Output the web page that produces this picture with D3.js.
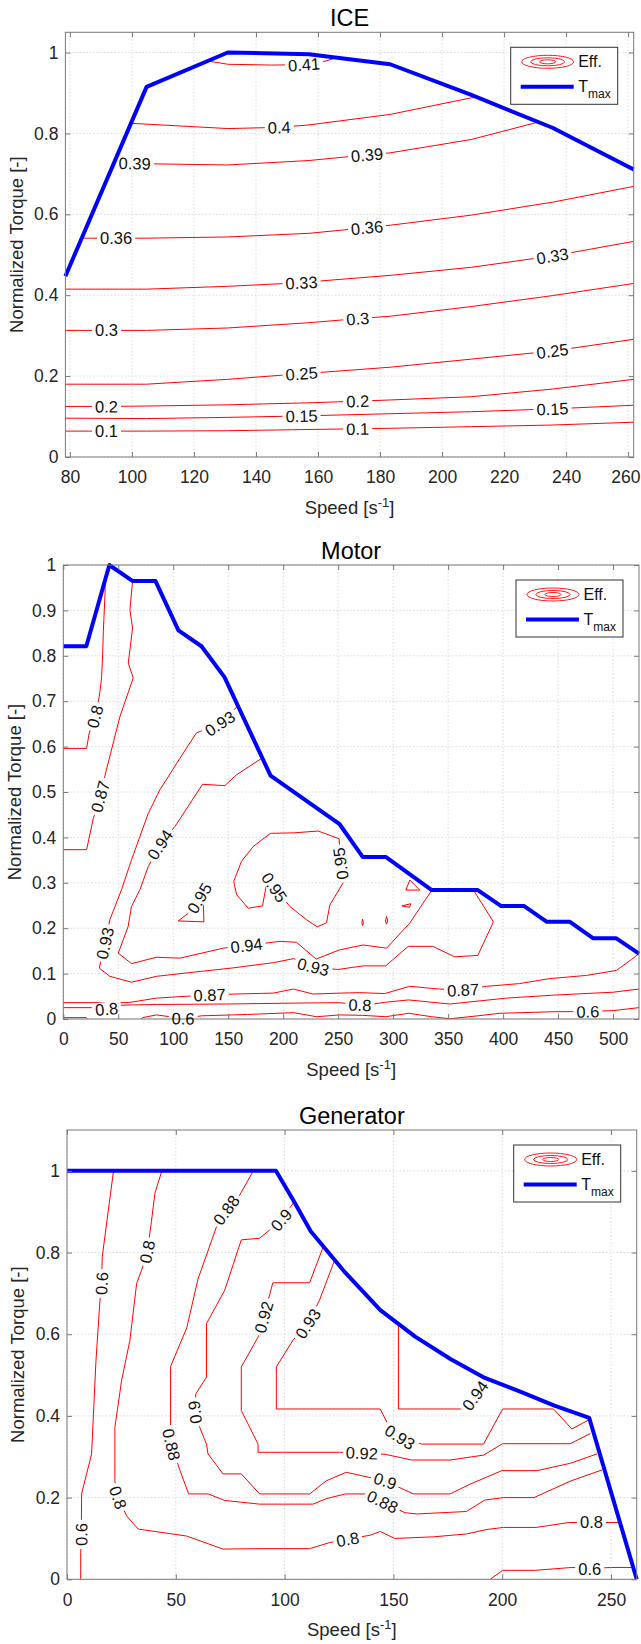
<!DOCTYPE html>
<html>
<head>
<meta charset="utf-8">
<script src="https://cdn.jsdelivr.net/npm/d3@7"></script>
<style>
body { margin: 0; background: #fff; }
text { font-family: "Liberation Sans", Arial, sans-serif; }
</style>
</head>
<body>
<div id="graphic"></div>
<script>
// ---- ICE data ----  (points are [speed, torque], a third value 1 marks a label spot)
const iceSpeed = [78.54, 104.72, 130.9, 157.08, 183.26, 209.44, 235.62, 261.8];
const iceTmax = [0.447, 0.915, 1.0, 0.996, 0.971, 0.895, 0.814, 0.711];
const iceLevels = ["0.41", "0.4", "0.39", "0.36", "0.33", "0.3", "0.25", "0.2", "0.15", "0.1"];
const iceLines = [
    [[124.5, 0.979], [130.9, 0.971], [145, 0.969], [155.5, 0.970, 1], [162.6, 0.979], [166, 0.988]],
    [[99.7, 0.825], [130.9, 0.812], [147.5, 0.815, 1], [157.08, 0.821], [183.26, 0.847], [209.44, 0.888], [211.3, 0.889]],
    [[94.1, 0.726], [100.9, 0.726, 1], [104.72, 0.725], [130.9, 0.722], [157.08, 0.733], [175.8, 0.747, 1], [183.26, 0.752], [209.44, 0.785], [231, 0.828]],
    [[83.8, 0.541], [94.9, 0.541, 1], [104.72, 0.541], [130.9, 0.544], [157.08, 0.553], [175.8, 0.567, 1], [183.26, 0.573], [209.44, 0.598], [235.62, 0.630], [261.8, 0.669]],
    [[78.54, 0.415], [104.72, 0.415], [130.9, 0.422], [154.7, 0.431, 1], [157.08, 0.433], [183.26, 0.449], [209.44, 0.469], [235.62, 0.497, 1], [261.8, 0.533]],
    [[78.54, 0.313], [91.8, 0.313, 1], [104.72, 0.313], [130.9, 0.319], [157.08, 0.332], [172.8, 0.342, 1], [183.26, 0.348], [209.44, 0.372], [235.62, 0.399], [261.8, 0.429]],
    [[78.54, 0.18], [104.72, 0.18], [130.9, 0.192], [154.7, 0.206, 1], [157.08, 0.207], [183.26, 0.222], [209.44, 0.242], [235.62, 0.262, 1], [261.8, 0.291]],
    [[78.54, 0.125], [91.8, 0.125, 1], [104.72, 0.126], [130.9, 0.129], [157.08, 0.134], [172.8, 0.138, 1], [183.26, 0.141], [209.44, 0.149], [235.62, 0.168], [261.8, 0.192]],
    [[78.54, 0.096], [104.72, 0.095], [130.9, 0.098], [154.7, 0.1015, 1], [157.08, 0.102], [183.26, 0.107], [209.44, 0.112], [235.62, 0.119, 1], [261.8, 0.128]],
    [[78.54, 0.064], [91.8, 0.064, 1], [104.72, 0.064], [130.9, 0.065], [157.08, 0.068], [172.8, 0.0698, 1], [183.26, 0.071], [209.44, 0.075], [235.62, 0.079], [261.8, 0.086]]
];
const iceXTicks = [80, 100, 120, 140, 160, 180, 200, 220, 240, 260];
const iceYTicks = [0, 0.2, 0.4, 0.6, 0.8, 1];

// ---- Motor data ----
const motorSpeed = [0, 20.94, 41.89, 62.83, 83.78, 104.72, 125.66, 146.61, 188.5, 251.33, 272.27, 293.22, 335.1, 376.99, 397.94, 418.88, 439.82, 460.77, 481.71, 502.65, 523.6];
const motorTmax = [0.821, 0.821, 1.0, 0.965, 0.965, 0.856, 0.821, 0.753, 0.536, 0.429, 0.357, 0.357, 0.284, 0.284, 0.249, 0.249, 0.214, 0.214, 0.178, 0.178, 0.144];
const motorLevels = ["0.6", "0.6", "0.8", "0.8", "0.87", "0.87", "0.93", "0.94", "0.95", "0.95", "0.95", "0.95", "0.95", "0.95"];
const motorLines = [
    [[0, 0.003], [20.94, 0.003], [26, -0.01]],
    [[66, -0.01], [72, 0.003], [84.8, 0.009], [109, 0.001, 1], [125.7, 0.007], [167.6, 0.010], [209.4, 0.014], [230.4, 0.005], [251.3, 0.009], [272.3, 0.008], [293.2, 0.005], [314.2, 0.0126], [335.1, 0.005], [351.5, 0.0005], [377, 0.007], [397, 0.0126], [445.5, 0.016], [477, 0.0165, 1], [500, 0.0185], [523.6, 0.025]],
    [[0, 0.025], [25.8, 0.025], [39.4, 0.022, 1], [47, 0.03], [62.8, 0.031], [84.8, 0.032], [148.5, 0.033], [209.4, 0.035], [251.3, 0.036], [269.7, 0.031, 1], [281.8, 0.033], [293.2, 0.037], [314.2, 0.042], [351.5, 0.033], [403, 0.046], [448.5, 0.053], [500, 0.059], [523.6, 0.066]],
    [[38.2, 0.967], [37.9, 0.934], [36.4, 0.853], [35.8, 0.802], [34.8, 0.751], [32.7, 0.71], [28.8, 0.666, 1], [23.6, 0.63], [21.2, 0.596], [0, 0.596]],
    [[0, 0.036], [59, 0.036], [84.8, 0.046], [118, 0.051], [133, 0.053, 1], [156, 0.055], [191, 0.057], [209.4, 0.066], [227, 0.055], [251.5, 0.057], [269.7, 0.058], [292.4, 0.056], [315, 0.072], [342, 0.066], [363.6, 0.064, 1], [385, 0.072], [415, 0.078], [442.4, 0.089], [475.8, 0.096], [503, 0.107], [516.7, 0.131], [523.6, 0.144]],
    [[63, 0.965], [60.6, 0.901], [63, 0.861], [59.1, 0.784], [63.6, 0.751], [51.5, 0.666], [43, 0.585], [38.8, 0.545], [33.5, 0.49, 1], [27.3, 0.442], [21.2, 0.373], [0, 0.373]],
    [[158.9, 0.69], [142.4, 0.651, 1], [121, 0.63], [106, 0.574], [87.9, 0.505], [77.3, 0.453], [69.7, 0.402], [62.1, 0.351], [53, 0.285], [42.4, 0.219], [37.9, 0.167, 1], [32.7, 0.112], [42.4, 0.094], [62, 0.081], [84.8, 0.094], [118, 0.103], [154.5, 0.1126], [190.9, 0.124], [209.4, 0.133], [227.3, 0.115, 1], [249.6, 0.109], [272.7, 0.117], [293.2, 0.117], [313.7, 0.16], [336, 0.16], [356, 0.137], [377, 0.14], [391.2, 0.214], [373.3, 0.283]],
    [[181, 0.575], [157.6, 0.538], [147, 0.514], [126.7, 0.517], [101.5, 0.424], [87.9, 0.384, 1], [77.3, 0.336], [69.7, 0.285], [62, 0.248], [59, 0.204], [50, 0.145], [62, 0.122], [84.8, 0.136], [106, 0.134], [145.5, 0.156], [166.7, 0.162, 1], [197, 0.171], [212, 0.169], [230, 0.132], [250.9, 0.152], [272.7, 0.163], [294, 0.156], [315, 0.211], [335.3, 0.284]],
    [[104.5, 0.216], [127.9, 0.214], [127.3, 0.255], [131, 0.29], [123.8, 0.266, 1], [119.7, 0.244], [104.5, 0.216]],
    [[188.5, 0.409], [209.4, 0.41], [231.8, 0.414], [250.9, 0.397], [252.2, 0.342, 1], [256, 0.306], [242.4, 0.251], [239.4, 0.212], [230.9, 0.203], [221, 0.219], [206, 0.248], [192, 0.29, 1], [186.4, 0.318], [181.2, 0.249], [168.2, 0.244], [157.6, 0.274], [155, 0.303], [162, 0.347], [172.7, 0.38], [188.5, 0.409]],
    [[311.5, 0.284], [324.2, 0.284], [315.2, 0.306], [311.5, 0.284]],
    [[308, 0.249], [316, 0.254], [315, 0.246], [308, 0.249]],
    [[293, 0.216], [294, 0.226], [295, 0.216], [294, 0.209], [293, 0.216]],
    [[271.5, 0.212], [272.2, 0.22], [273, 0.212], [272.2, 0.206], [271.5, 0.212]]
];
const motorXTicks = [0, 50, 100, 150, 200, 250, 300, 350, 400, 450, 500];
const motorYTicks = [0, 0.1, 0.2, 0.3, 0.4, 0.5, 0.6, 0.7, 0.8, 0.9, 1];

// ---- Generator data ----
const genSpeed = [0, 96, 104, 112, 128, 144, 160, 176, 192, 208, 224, 240, 261.8];
const genTmax = [1, 1, 0.928, 0.852, 0.75, 0.659, 0.594, 0.54, 0.493, 0.46, 0.425, 0.395, 0];
const genLevels = ["0.6", "0.8", "0.88", "0.9", "0.92", "0.93", "0.94", "0.6"];
const genLines = [
    [[21.3, 0.997], [16.2, 0.79], [15.9, 0.724, 1], [15.1, 0.679], [13.3, 0.534], [11.3, 0.307], [6.7, 0.209], [6.6, 0.11, 1], [6.3, 0.065], [6.3, 0]],
    [[43.4, 0.997], [40.4, 0.945], [38.8, 0.876], [36.9, 0.802, 1], [34.3, 0.757], [32, 0.724], [28.9, 0.585], [25.1, 0.487], [22, 0.372], [22, 0.241], [23.5, 0.2, 1], [27.4, 0.155], [32.7, 0.123], [54.9, 0.106], [71.7, 0.074], [88.5, 0.075], [111.5, 0.075], [120.8, 0.09], [129, 0.098, 1], [139.3, 0.108], [144, 0.117], [150.6, 0.1], [168.5, 0.104], [183.5, 0.111], [193, 0.122], [200.5, 0.127], [215.6, 0.127], [230.6, 0.139], [241, 0.139, 1], [251.3, 0.139], [254.2, 0.139]],
    [[85.2, 0.996], [79.4, 0.941], [73.2, 0.904, 1], [68.7, 0.863], [60.2, 0.735], [55, 0.615], [47.6, 0.521], [47.6, 0.366], [48, 0.33, 1], [51.8, 0.268], [55.9, 0.209], [64.9, 0.209], [72.5, 0.193], [88.5, 0.184], [113, 0.184], [119.5, 0.198], [128, 0.209], [137.4, 0.209], [145, 0.19, 1], [155.3, 0.163], [161, 0.16], [183.5, 0.166], [192, 0.194], [200.5, 0.2], [214.6, 0.2], [231.6, 0.241], [246, 0.268]],
    [[104.5, 0.925], [98.5, 0.88, 1], [93.1, 0.855], [88.5, 0.835], [80.1, 0.831], [72.5, 0.708], [64.1, 0.626], [64.1, 0.495], [59.2, 0.454], [58.7, 0.409, 1], [61, 0.372], [64.1, 0.331], [64.8, 0.307], [71.7, 0.258], [80.1, 0.258], [88.5, 0.209], [111.5, 0.209], [119.1, 0.241], [128.3, 0.262], [146.2, 0.241, 1], [159.2, 0.209], [176, 0.209], [185.3, 0.233], [199.8, 0.266], [216, 0.266], [231.3, 0.284], [243.6, 0.307]],
    [[117.6, 0.812], [111.5, 0.726], [94.6, 0.726], [90.4, 0.642, 1], [87.8, 0.593], [80.1, 0.52], [80.1, 0.413], [87.8, 0.331], [87.8, 0.311], [125.2, 0.311], [135.5, 0.309, 1], [146.2, 0.306], [158.4, 0.292], [176, 0.292], [191.4, 0.304], [200.2, 0.332], [231.3, 0.332], [240.5, 0.357]],
    [[122.9, 0.78], [116, 0.683], [110.7, 0.626, 1], [103.8, 0.585], [96.2, 0.52], [96.2, 0.417], [143.9, 0.417], [147, 0.385], [153, 0.348, 1], [163, 0.331], [191.4, 0.331], [200.2, 0.417], [223.6, 0.417], [232, 0.368], [239.7, 0.39]],
    [[152.3, 0.622], [152.3, 0.417], [181.4, 0.417], [187.6, 0.45, 1], [191.4, 0.49]],
    [[194.5, 0], [200.2, 0.022], [215.2, 0.022], [232, 0.029], [240.2, 0.026, 1], [249.7, 0.029], [260.4, 0.029]]
];
const genXTicks = [0, 50, 100, 150, 200, 250];
const genYTicks = [0, 0.2, 0.4, 0.6, 0.8, 1];

// ---- drawing ----
const svg = d3.select("#graphic")
    .append("svg")
    .attr("width", 641)
    .attr("height", 1644)
    .style("display", "block");
const defs = svg.append("defs");

function drawPanel(p) {
    const x = d3.scaleLinear().domain(p.xDomain).range([p.left, p.right]);
    const y = d3.scaleLinear().domain(p.yDomain).range([p.bottom, p.top]);
    const g = svg.append("g");

    // dotted grid
    const grid = g.append("g")
        .attr("stroke", "#d2d2d2")
        .attr("stroke-width", 0.8)
        .attr("stroke-dasharray", "1.5,2");
    grid.selectAll(".gx").data(p.xTicks).join("line").attr("class", "gx")
        .attr("x1", d => x(d)).attr("x2", d => x(d))
        .attr("y1", p.top).attr("y2", p.bottom);
    grid.selectAll(".gy").data(p.yTicks).join("line").attr("class", "gy")
        .attr("x1", p.left).attr("x2", p.right)
        .attr("y1", d => y(d)).attr("y2", d => y(d));

    // contours: clipped to the box, broken under labels by a mask
    defs.append("clipPath").attr("id", p.id + "-clip")
        .append("rect")
        .attr("x", p.left).attr("y", p.top)
        .attr("width", p.right - p.left).attr("height", p.bottom - p.top);
    const mask = defs.append("mask").attr("id", p.id + "-mask")
        .attr("maskUnits", "userSpaceOnUse")
        .attr("x", 0).attr("y", 0).attr("width", 641).attr("height", 1644);
    mask.append("rect").attr("width", 641).attr("height", 1644).attr("fill", "white");

    const line = d3.line().x(d => x(d[0])).y(d => y(d[1]));
    g.append("g").attr("clip-path", `url(#${p.id}-clip)`)
        .append("g").attr("mask", `url(#${p.id}-mask)`)
        .selectAll("path")
        .data(p.lines)
        .join("path")
        .attr("d", line)
        .attr("fill", "none")
        .attr("stroke", "#ff0000")
        .attr("stroke-width", 1);

    // T max
    g.append("path")
        .datum(p.speed.map((s, i) => [s, p.tmax[i]]))
        .attr("d", line)
        .attr("fill", "none")
        .attr("stroke", "#0000ff")
        .attr("stroke-width", 4)
        .attr("stroke-linejoin", "round");

    // axes (ticks pointing inward on all four sides)
    const axisStyle = sel => {
        sel.select(".domain").remove();
        sel.selectAll(".tick line").attr("stroke", "#7a7a7a");
        sel.selectAll("text").attr("fill", "#262626").attr("font-size", 17.5)
            .attr("font-family", "'Liberation Sans', Arial, sans-serif");
    };
    const bottomAxis = g.append("g").attr("transform", `translate(0,${p.bottom})`)
        .call(d3.axisBottom(x).tickValues(p.xTicks).tickSizeInner(-5).tickSizeOuter(0).tickPadding(14).tickFormat(d => d))
        .call(axisStyle);
    // keep the last tick label inside the page
    bottomAxis.selectAll(".tick text").each(function (d) {
        const w = this.getComputedTextLength();
        const over = x(d) + w / 2 - 640;
        if (over > 0) d3.select(this).attr("dx", -over);
    });
    g.append("g").attr("transform", `translate(0,${p.top})`)
        .call(d3.axisTop(x).tickValues(p.xTicks).tickSizeInner(-5).tickSizeOuter(0).tickFormat(""))
        .call(axisStyle);
    g.append("g").attr("transform", `translate(${p.left},0)`)
        .call(d3.axisLeft(y).tickValues(p.yTicks).tickSizeInner(-5).tickSizeOuter(0).tickPadding(7).tickFormat(d => d))
        .call(axisStyle);
    g.append("g").attr("transform", `translate(${p.right},0)`)
        .call(d3.axisRight(y).tickValues(p.yTicks).tickSizeInner(-5).tickSizeOuter(0).tickFormat(""))
        .call(axisStyle);
    g.append("rect")
        .attr("x", p.left).attr("y", p.top)
        .attr("width", p.right - p.left).attr("height", p.bottom - p.top)
        .attr("fill", "none").attr("stroke", "#7a7a7a").attr("stroke-width", 1);

    // contour labels, rotated along the line (near-vertical ones read upward)
    p.lines.forEach((ln, li) => {
        const pts = ln.map(d => [x(d[0]), y(d[1])]);
        ln.forEach((d, i) => {
            if (!d[2]) return;
            const a = pts[i - 1] || pts[i], b = pts[i + 1] || pts[i];
            let ang = Math.atan2(b[1] - a[1], b[0] - a[0]) * 180 / Math.PI;
            if (ang > 90) ang -= 180;
            if (ang < -90) ang += 180;
            if (ang > 80) ang -= 180;
            const tr = `translate(${pts[i][0]},${pts[i][1]}) rotate(${ang})`;
            const t = g.append("text")
                .attr("transform", tr)
                .attr("text-anchor", "middle")
                .attr("dy", "0.36em")
                .attr("font-size", 16.5)
                .attr("fill", "#111")
                .text(p.levels[li]);
            const w = t.node().getComputedTextLength();
            mask.append("rect")
                .attr("transform", tr)
                .attr("x", -w / 2 - 3).attr("y", -7)
                .attr("width", w + 6).attr("height", 14)
                .attr("fill", "black");
        });
    });

    // title and axis labels
    const cx = (p.left + p.right) / 2;
    g.append("text").attr("x", cx).attr("y", p.top - 6)
        .attr("text-anchor", "middle").attr("font-size", 23.5).attr("fill", "#000")
        .text(p.title);
    const xl = g.append("text").attr("x", cx).attr("y", p.bottom + 57)
        .attr("text-anchor", "middle").attr("font-size", 18.5).attr("fill", "#262626");
    xl.append("tspan").text("Speed [s");
    xl.append("tspan").attr("dy", -7).attr("font-size", 13).text("-1");
    xl.append("tspan").attr("dy", 7).text("]");
    g.append("text")
        .attr("transform", `translate(${p.left - 49},${(p.top + p.bottom) / 2}) rotate(-90)`)
        .attr("text-anchor", "middle").attr("dy", "0.35em")
        .attr("font-size", 18.5).attr("fill", "#262626")
        .text("Normalized Torque [-]");

    // legend
    const lx = p.right - 16 - 107, ly = p.top + 15;
    const lg = g.append("g").attr("transform", `translate(${lx},${ly})`);
    lg.append("rect").attr("width", 107).attr("height", 57)
        .attr("fill", "#fff").attr("stroke", "#333").attr("stroke-width", 1);
    [[26, 6.5], [17, 4], [8, 2]].forEach(r => {
        lg.append("ellipse").attr("cx", 37).attr("cy", 14.5)
            .attr("rx", r[0]).attr("ry", r[1])
            .attr("fill", "none").attr("stroke", "#ff0000").attr("stroke-width", 0.9);
    });
    lg.append("text").attr("x", 67.5).attr("y", 20).attr("font-size", 16).attr("fill", "#111").text("Eff.");
    lg.append("line").attr("x1", 10).attr("x2", 63).attr("y1", 39.5).attr("y2", 39.5)
        .attr("stroke", "#0000ff").attr("stroke-width", 4);
    const tl = lg.append("text").attr("x", 67.5).attr("y", 45).attr("font-size", 16).attr("fill", "#111");
    tl.append("tspan").text("T");
    tl.append("tspan").attr("dy", 6).attr("font-size", 12).text("max");
}

drawPanel({
    id: "ice", title: "ICE",
    left: 65.4, right: 633.7, top: 32.3, bottom: 457,
    xDomain: [78.54, 261.8], yDomain: [0, 1.05],
    xTicks: iceXTicks, yTicks: iceYTicks,
    speed: iceSpeed, tmax: iceTmax, lines: iceLines, levels: iceLevels
});
drawPanel({
    id: "motor", title: "Motor",
    left: 63.3, right: 639, top: 565, bottom: 1019,
    xDomain: [0, 523.6], yDomain: [0, 1],
    xTicks: motorXTicks, yTicks: motorYTicks,
    speed: motorSpeed, tmax: motorTmax, lines: motorLines, levels: motorLevels
});
drawPanel({
    id: "gen", title: "Generator",
    left: 67, right: 636.7, top: 1130, bottom: 1579.3,
    xDomain: [0, 261.8], yDomain: [0, 1.1],
    xTicks: genXTicks, yTicks: genYTicks,
    speed: genSpeed, tmax: genTmax, lines: genLines, levels: genLevels
});
</script>
</body>
</html>
